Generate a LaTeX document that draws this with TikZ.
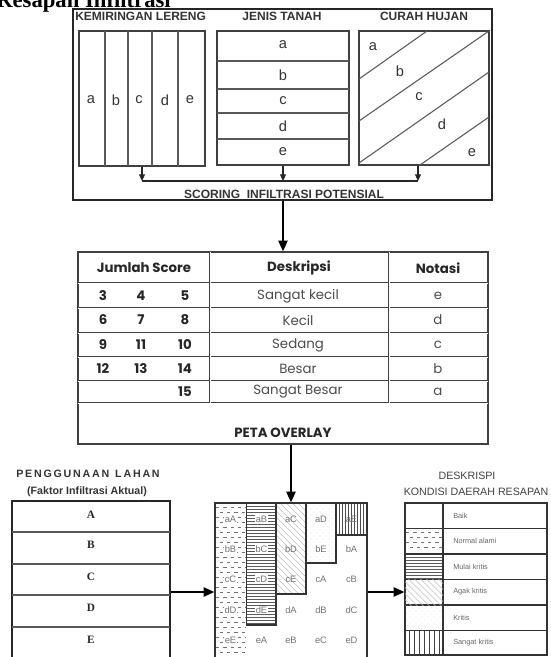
\documentclass[tikz,border=0pt]{standalone}
\usepackage{fontspec}
\setmainfont{Liberation Serif}
\setsansfont{Liberation Sans}
\newfontfamily\gothic{Poppins}
\usetikzlibrary{arrows.meta,fit}
\newcommand\fsz[1]{\fontsize{#1}{#1}\selectfont}
\begin{document}
\begin{tikzpicture}[x=0.75pt,y=-0.75pt,
  box/.style={draw=black!75, line width=0.9pt, inner sep=0pt},
  outer/.style={draw=black!85, line width=1.1pt, inner sep=0pt},
  thinln/.style={draw=black!65, line width=0.8pt},
  tl/.style={draw=black!75, line width=0.45pt, double=white, double distance=0.6pt},
  arr/.style={-{Triangle[length=8pt,width=7pt]}, line width=1pt, black},
  sarr/.style={-{Triangle[length=5pt,width=4.5pt]}, line width=0.8pt, black!85},
  hd/.style={font=\sffamily\bfseries\fsz{9}, text=black!80, inner sep=0pt},
  lt/.style={font=\sffamily\fsz{11}, text=black!80, inner sep=0pt},
  tb/.style={font=\gothic\bfseries\fsz{10}, text=black!85, inner sep=0pt},
  tr/.style={font=\gothic\fsz{10}, text=black!70, inner sep=0pt},
  gl/.style={font=\sffamily\fsz{7}, text=black!55, inner sep=0.6pt, fill=white},
  gl2/.style={font=\sffamily\fsz{7}, text=black!55, inner sep=0.6pt},
  ll/.style={font=\sffamily\fsz{5.5}, text=black!60, inner sep=0pt, anchor=west},
  ul/.style={font=\rmfamily\bfseries\fsz{8.5}, text=black!85, inner sep=0pt}]
\useasboundingbox (0,0) rectangle (550,657);
\clip (0,0) rectangle (550,657);

% title (cut off)
\node[anchor=base east, font=\rmfamily\bfseries\fsz{17}, inner sep=0pt] (title) at (171,7) {Resapan Infiltrasi};

% ---------- top box ----------
\coordinate (tA) at (73,9); \coordinate (tB) at (492,200);
\node[outer, fit=(tA)(tB)] (top) {};
\node[hd, anchor=west] (klab) at (75,16) {KEMIRINGAN LERENG};
\node[hd] (jlab) at (282,16) {JENIS TANAH};
\node[hd] (clab) at (424,16) {CURAH HUJAN};

% slope box
\coordinate (sA) at (79,31); \coordinate (sB) at (205,166);
\node[box, fit=(sA)(sB)] (slope) {};
\foreach \xx in {105,128,152,178} \draw[thinln] (\xx,31) -- (\xx,166);
\node[lt] (sa) at (91,100) {a};
\node[lt] (sb) at (116,100) {b};
\node[lt] (sc) at (139,100) {c};
\node[lt] (sd) at (165,100) {d};
\node[lt] (se) at (190,100) {e};

% soil box
\coordinate (oA) at (217,31); \coordinate (oB) at (349,165);
\node[box, fit=(oA)(oB)] (soil) {};
\foreach \yy in {61,89,113,139} \draw[thinln] (217,\yy) -- (349,\yy);
\node[lt] (oa) at (283,45) {a};
\node[lt] (ob) at (283,75) {b};
\node[lt] (oc) at (283,101) {c};
\node[lt] (od) at (283,126) {d};
\node[lt] (oe) at (283,152) {e};

% rain box
\coordinate (rA) at (359,31); \coordinate (rB) at (489,165);
\node[box, fit=(rA)(rB)] (rain) {};
\draw[thinln] (359,79) -- (427,31);
\draw[thinln] (359,121) -- (489,31);
\draw[thinln] (359,163) -- (489,72);
\draw[thinln] (420,165) -- (489,117);
\node[lt] (ra) at (373,47) {a};
\node[lt] (rb) at (400,71) {b};
\node[lt] (rc) at (419,97) {c};
\node[lt] (rd) at (442,124) {d};
\node[lt] (re) at (472,153) {e};

% collector arrows
\coordinate (hline) at (0,181);
\coordinate (jl) at (slope.south |- hline);
\coordinate (jm) at (soil.south |- hline);
\coordinate (jr) at (418,181);
\draw[black!85, line width=0.9pt] (jl) -- (jr);
\draw[sarr] (slope.south) -- (jl);
\draw[sarr] (soil.south) -- (jm);
\draw[sarr] (jr |- rain.south) -- (jr);
\node[hd] (scor) at (284,194) {SCORING\ \ INFILTRASI POTENSIAL};

% ---------- table ----------
\coordinate (bA) at (78,252); \coordinate (bB) at (488,444);
\node[draw=black!75, line width=1pt, inner sep=0pt, fit=(bA)(bB)] (table) {};
\draw[arr] (top.south -| soil.south) -- (table.north -| soil.south);
\foreach \yy in {283,308,333,357,381,403} \draw[tl] (78,\yy) -- (488,\yy);
\foreach \xx in {210,389} \draw[tl] (\xx,252) -- (\xx,403);
\node[tb] (h1) at (144,268) {Jumlah Score};
\node[tb] (h2) at (299,268) {Deskripsi};
\node[tb] (h3) at (438,268) {Notasi};
\foreach \yy/\na/\nb/\nc/\de/\no [count=\i] in
  {296/3/4/5/Sangat kecil/e, 320/6/7/8/Kecil/d, 345/9/11/10/Sedang/c,
   369/12/13/14/Besar/b, 392///15/Sangat Besar/a} {
  \node[tb] (n\i a) at (103,\yy) {\na};
  \node[tb] (n\i b) at (141,\yy) {\nb};
  \node[tb] (n\i c) at (185,\yy) {\nc};
  \node[tr] (d\i) at (298,\yy) {\de};
  \node[tr] (o\i) at (438,\yy) {\no};
}
\node[tb] (peta) at (283,433) {PETA OVERLAY};

% ---------- land use box ----------
\node[font=\sffamily\bfseries\fsz{8}, text=black!80, inner sep=0pt] (pl1) at (88,474) {P\,E\,N\,G\,G\,U\,N\,A\,A\,N\ \ L\,A\,H\,A\,N};
\node[font=\sffamily\bfseries\fsz{8}, text=black!80, inner sep=0pt] (pl2) at (87,492) {(Faktor Infiltrasi Aktual)};
\coordinate (uA) at (12,501); \coordinate (uB) at (170,670);
\node[draw=black!85, line width=1.1pt, inner sep=0pt, fit=(uA)(uB)] (land) {};
\foreach \yy in {532,564,595,627} \draw[thinln] (12,\yy) -- (170,\yy);
\node[ul] (uAl) at (91,515) {A};
\node[ul] (uBl) at (91,545) {B};
\node[ul] (uCl) at (91,577) {C};
\node[ul] (uDl) at (91,608) {D};
\node[ul] (uEl) at (91,640) {E};

% ---------- overlay grid ----------
\coordinate (gA) at (215,503); \coordinate (gB) at (367,670);
\node[draw=black!80, line width=1pt, inner sep=0pt, fit=(gA)(gB)] (grid) {};
% column 1: dashes (normal alami)
\foreach \yy in {507,517,...,667} \draw[black!55, line width=0.6pt, dash pattern=on 2.5pt off 3pt] (216,\yy) -- (246,\yy);
\foreach \yy in {512,522,...,667} \draw[black!55, line width=0.6pt, dash pattern=on 2.5pt off 3pt, dash phase=2.7pt] (216,\yy) -- (246,\yy);
% column 2: horizontal lines (mulai kritis)
\foreach \yy in {506,509,...,623} \draw[black!65, line width=0.6pt] (247,\yy) -- (276,\yy);
% column 3: diagonal (agak kritis)
\begin{scope}
  \clip (276,503) rectangle (306,594);
  \foreach \k in {-40,-34,...,100} \draw[black!25, line width=0.4pt] (276,503+\k) -- ++(40,40);
\end{scope}
% column 4: faint dots (kritis)
\begin{scope}
  \clip (306,503) rectangle (336,563);
  \foreach \xx in {308,314,...,336} \foreach \yy in {506,512,...,562} {
    \fill[black!30] (\xx,\yy) circle (0.35pt);
    \fill[black!30] (\xx+3,\yy+3) circle (0.35pt);}
\end{scope}
% column 5: vertical lines (sangat kritis)
\foreach \xx in {339,342,...,366} \draw[black!70, line width=0.6pt] (\xx,503) -- (\xx,535);
% staircase outlines
\draw[black!80, line width=1pt] (246.5,503) rectangle (276,625);
\draw[black!80, line width=1pt] (276,503) rectangle (306,594);
\draw[black!80, line width=1pt] (306,503) rectangle (336,563);
\draw[black!80, line width=1pt] (336,503) rectangle (367,535);
% labels
\foreach \l/\r [count=\ri from 0] in {a/519, b/549, c/579, d/610, e/640} {
  \foreach \cx [count=\ci from 0] in {230.5, 261.5, 291, 321, 351.5} {
    \pgfmathtruncatemacro\u{mod(\ri+\ci,5)}
    \ifcase\u \def\U{A}\or \def\U{B}\or \def\U{C}\or \def\U{D}\or \def\U{E}\fi
    \ifnum\ci<2
      \node[gl] (g\l\U) at (\cx,\r) {\l\U};
    \else
      \node[gl2] (g\l\U) at (\cx,\r) {\l\U};
    \fi
  }
}
\draw[arr] (table.south -| grid.north) -- (grid.north);

% ---------- legend ----------
\node[font=\sffamily\fsz{8}, text=black!75, inner sep=0pt] (lg1) at (467,476) {DESKRISPI};
\node[font=\sffamily\fsz{8}, text=black!75, inner sep=0pt] (lg2) at (476,492) {KONDISI DAERAH RESAPAN};
\coordinate (lA) at (405,503); \coordinate (lB) at (547,655);
\node[draw=black!80, line width=1pt, inner sep=0pt, fit=(lA)(lB)] (legend) {};
\draw[black!80, line width=1pt] (443,503) -- (443,655);
\foreach \yy in {528.5,554,579.5,605,630.5} \draw[black!80, line width=1pt] (405,\yy) -- (547,\yy);
% pattern cells
\foreach \yy in {532,542} \draw[black!55, line width=0.6pt, dash pattern=on 2.5pt off 3pt] (406,\yy) -- (442,\yy);
\foreach \yy in {537,547} \draw[black!55, line width=0.6pt, dash pattern=on 2.5pt off 3pt, dash phase=2.7pt] (406,\yy) -- (442,\yy);
\foreach \yy in {557,560,...,578} \draw[black!65, line width=0.6pt] (406,\yy) -- (442,\yy);
\begin{scope}
  \clip (405,579.5) rectangle (443,605);
  \foreach \k in {-40,-34,...,30} \draw[black!25, line width=0.4pt] (405,579.5+\k) -- ++(40,40);
\end{scope}
\begin{scope}
  \clip (405,605) rectangle (443,630.5);
  \foreach \xx in {407,413,...,443} \foreach \yy in {608,614,...,630} {
    \fill[black!30] (\xx,\yy) circle (0.35pt);
    \fill[black!30] (\xx+3,\yy+3) circle (0.35pt);}
\end{scope}
\foreach \xx in {409,414,...,441} \draw[black!75, line width=0.7pt] (\xx,630.5) -- (\xx,655);
\node[ll] (l1) at (453,516) {Baik};
\node[ll] (l2) at (453,541) {Normal alami};
\node[ll] (l3) at (453,567) {Mulai kritis};
\node[ll] (l4) at (453,592) {Agak kritis};
\node[ll] (l5) at (453,618) {Kritis};
\node[ll] (l6) at (453,643) {Sangat kritis};

% side arrows
\coordinate (mid) at (0,592);
\draw[arr] (land.east |- mid) -- (grid.west |- mid);
\draw[arr] (grid.east |- mid) -- (legend.west |- mid);
\end{tikzpicture}
\end{document}
